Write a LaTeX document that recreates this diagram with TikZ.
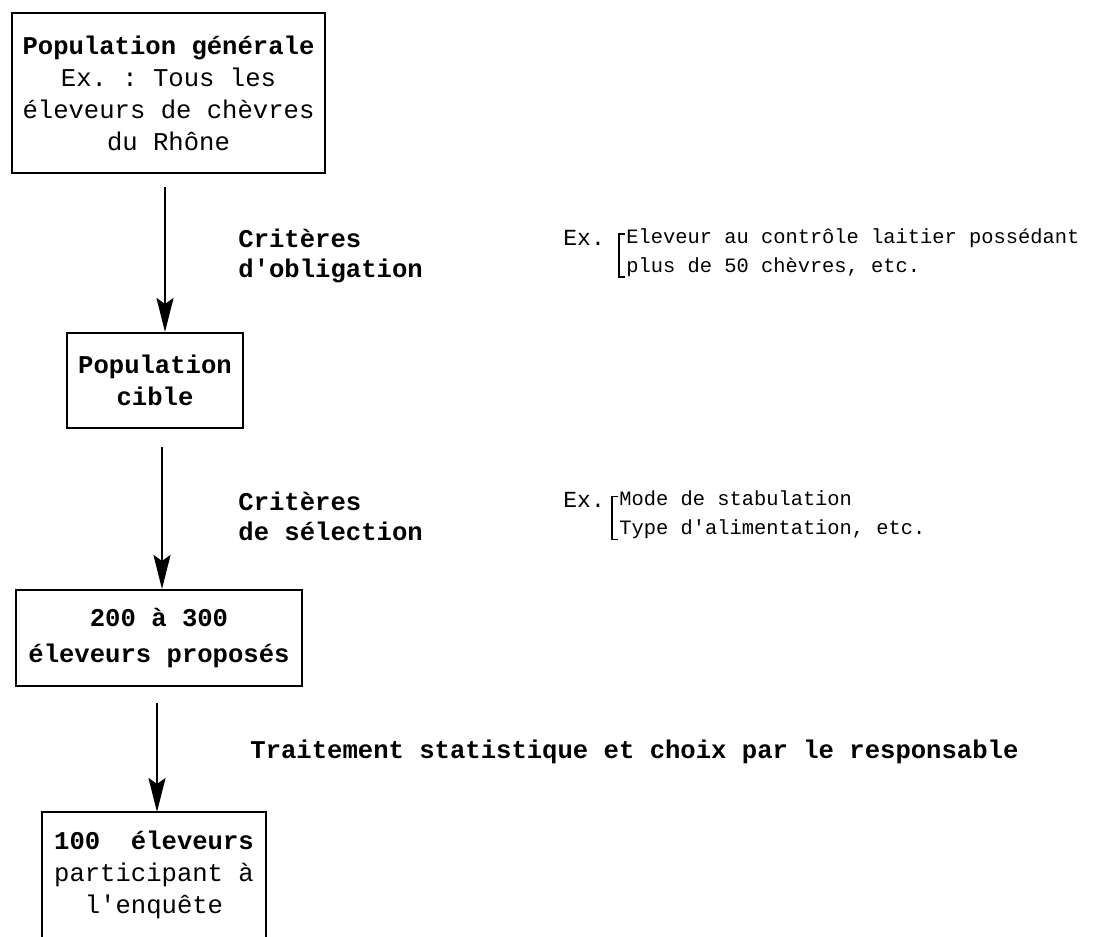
\documentclass[tikz,border=0pt]{standalone}
\usepackage{fontspec}
\setmonofont{Liberation Mono}
\usetikzlibrary{arrows.meta}
\begin{document}
\begin{tikzpicture}[
            x=0.5pt, y=-0.5pt,
            box/.style={draw, line width=1pt, inner sep=0pt, align=center,
                font=\ttfamily\fontsize{12.8}{16}\selectfont},
            boldbox/.style={box, font=\ttfamily\bfseries\fontsize{12.8}{16}\selectfont},
            crit/.style={anchor=west, inner sep=0pt, align=left,
                font=\ttfamily\bfseries\fontsize{12.8}{15}\selectfont},
            exlabel/.style={anchor=west, inner sep=0pt, align=left,
                font=\ttfamily\fontsize{10.2}{14.5}\selectfont},
            bracket/.style={line width=0.6pt},
            flow/.style={line width=1.2pt, -{Stealth[length=17pt,width=8.5pt,inset=3pt]}}
        ]
        \useasboundingbox (0,0) rectangle (1093,937);
        \node[box, minimum width=156.5pt, minimum height=80pt] (popgen) at (168.5,93)
            {\textbf{Population générale}\\Ex. : Tous les\\éleveurs de chèvres\\du Rhône};
        \node[boldbox, minimum width=88pt, minimum height=47.5pt] (pcible) at (155,380.5)
            {Population\\cible};
        \node[boldbox, minimum width=143pt, minimum height=48pt] (proposes) at (159,638)
            {200 à 300\\[2pt]éleveurs proposés};
        \node[box, draw=none, minimum width=111pt, minimum height=62pt] (enquete) at (154,875)
            {\textbf{100\ \ éleveurs}\\participant à\\l'enquête};
        \draw[line width=1pt] (enquete.south west) |- (enquete.north east) -- (enquete.south east);

        \coordinate (a1) at (165,187);
        \coordinate (a2) at (162,447);
        \coordinate (a3) at (157,703);
        \draw[flow] (a1) -- (a1 |- pcible.north);
        \draw[flow] (a2) -- (a2 |- proposes.north);
        \draw[flow] (a3) -- (a3 |- enquete.north);

        \node[crit] (crit1) at (238,255.5) {Critères\\d'obligation};
        \node[crit] (crit2) at (238,516) {Critères\\de sélection};
        \node[crit] (traitement) at (250,752) {Traitement statistique et choix par le responsable};

        \node[exlabel, font=\ttfamily\fontsize{11.5}{14}\selectfont] (ex1) at (563,238) {Ex.};
        \node[exlabel] (exlist1) at (626,252.5) {Eleveur au contrôle laitier possédant\\plus de 50 chèvres, etc.};
        \node[exlabel, font=\ttfamily\fontsize{11.5}{14}\selectfont] (ex2) at (563,500) {Ex.};
        \node[exlabel] (exlist2) at (619,515) {Mode de stabulation\\Type d'alimentation, etc.};
        \draw[bracket] ([xshift=-0.5pt,yshift=-3pt]exlist1.north west) -- ++(-3pt,0)
            |- ([xshift=-0.5pt]exlist1.south west);
        \draw[bracket] ([xshift=-0.5pt,yshift=-3pt]exlist2.north west) -- ++(-3pt,0)
            |- ([xshift=-0.5pt]exlist2.south west);
    \end{tikzpicture}
\end{document}
